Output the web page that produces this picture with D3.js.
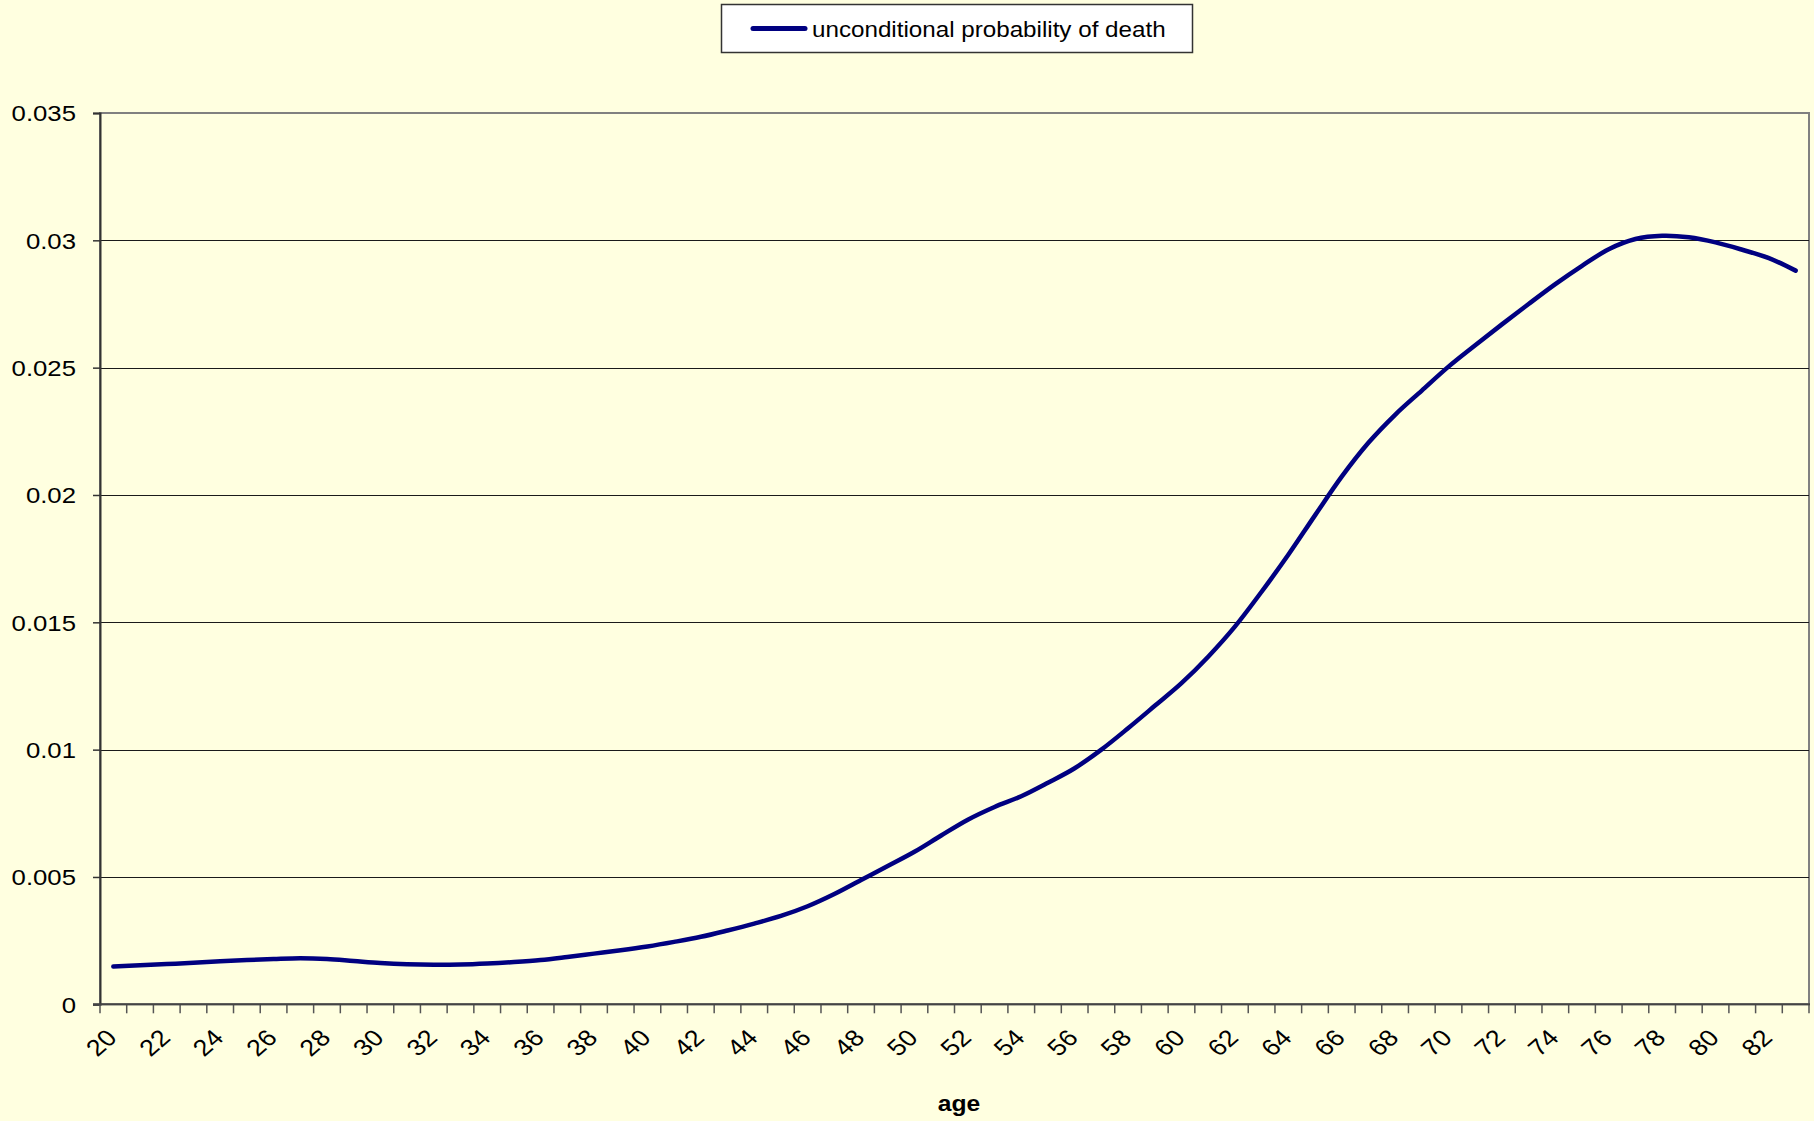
<!DOCTYPE html>
<html>
<head>
<meta charset="utf-8">
<script src="https://cdn.jsdelivr.net/npm/d3@7"></script>
<style>
  html, body { margin: 0; padding: 0; background: #FFFFE0; }
  svg { display: block; font-family: "Liberation Sans", Arial, sans-serif; }
</style>
</head>
<body>
<svg id="chart" width="1814" height="1121"></svg>
<script>
// Age categories on the horizontal axis
const ages = [20,21,22,23,24,25,26,27,28,29,30,31,32,33,34,35,36,37,38,39,
              40,41,42,43,44,45,46,47,48,49,50,51,52,53,54,55,56,57,58,59,
              60,61,62,63,64,65,66,67,68,69,70,71,72,73,74,75,76,77,78,79,
              80,81,82,83];

// Unconditional probability of death at each age
const deathProb = [0.00148,0.00153,0.00158,0.00163,0.00169,0.00174,0.00178,0.00181,0.00178,0.00170,
                   0.00162,0.00157,0.00155,0.00156,0.00160,0.00166,0.00174,0.00186,0.00199,0.00212,
                   0.00227,0.00245,0.00265,0.00290,0.00317,0.00347,0.00385,0.00433,0.00488,0.00543,
                   0.00599,0.00663,0.00725,0.00775,0.00817,0.00870,0.00927,0.01000,0.01084,0.01172,
                   0.01261,0.01365,0.01483,0.01620,0.01765,0.01920,0.02072,0.02205,0.02315,0.02410,
                   0.02504,0.02588,0.02670,0.02750,0.02828,0.02900,0.02965,0.03005,0.03018,0.03012,
                   0.02992,0.02963,0.02930,0.02881];

// Axis ticks and labels
const yTicks = [0, 0.005, 0.01, 0.015, 0.02, 0.025, 0.03, 0.035];
const yTickLabels = ["0", "0.005", "0.01", "0.015", "0.02", "0.025", "0.03", "0.035"];
const xTickLabels = [20,22,24,26,28,30,32,34,36,38,40,42,44,46,48,50,52,54,56,58,60,62,64,66,68,70,72,74,76,78,80,82];

const seriesName = "unconditional probability of death";
const xTitle = "age";

const svg = d3.select("#chart");
const W = 1814, H = 1121;
const plot = { left: 100, right: 1809, top: 113, bottom: 1004.3 };
const labelStretch = 1.17;

svg.append("rect").attr("width", W).attr("height", H).attr("fill", "#FFFFE0");

const x = d3.scaleBand().domain(ages).range([plot.left, plot.right]).padding(0);
const y = d3.scaleLinear().domain([0, 0.035]).range([plot.bottom, plot.top]);
const cx = a => x(a) + x.bandwidth() / 2;

// Plot area frame (grey top and right edges)
svg.append("rect")
  .attr("x", plot.left).attr("y", plot.top)
  .attr("width", plot.right - plot.left).attr("height", plot.bottom - plot.top)
  .attr("fill", "none").attr("stroke", "#808080").attr("stroke-width", 2);

// Horizontal gridlines
svg.append("g")
  .selectAll("line")
  .data(yTicks.filter(v => v > 0 && v < 0.035))
  .join("line")
  .attr("x1", plot.left).attr("x2", plot.right)
  .attr("y1", d => Math.round(y(d)) + 0.5).attr("y2", d => Math.round(y(d)) + 0.5)
  .attr("stroke", "#1a1a1a").attr("stroke-width", 1.2);

// Y axis
const yAxis = svg.append("g")
  .attr("transform", `translate(${plot.left},0)`)
  .call(d3.axisLeft(y).tickValues(yTicks).tickFormat((d, i) => yTickLabels[i]).tickSize(7).tickPadding(0));
yAxis.select(".domain").attr("stroke", "#333").attr("stroke-width", 2);
yAxis.selectAll(".tick line").attr("stroke", "#333").attr("stroke-width", 1.5);
yAxis.selectAll(".tick text")
  .attr("x", 0).attr("dy", "0.36em")
  .attr("transform", `translate(-24,0) scale(${labelStretch},1)`)
  .attr("text-anchor", "end")
  .attr("font-size", 22).attr("fill", "#000")
  .style("font-family", "'Liberation Sans', Arial, sans-serif");

// X axis: line, category-boundary ticks and rotated labels
const xAxis = svg.append("g")
  .attr("transform", `translate(0,${plot.bottom})`)
  .call(d3.axisBottom(x).tickValues(xTickLabels).tickSize(0).tickPadding(0));
xAxis.select(".domain").remove();
xAxis.selectAll(".tick text")
  .attr("x", 0).attr("y", 0).attr("dy", 0)
  .attr("transform", `translate(5,35) scale(${labelStretch},1) rotate(-45)`)
  .attr("text-anchor", "end")
  .attr("font-size", 23).attr("fill", "#000")
  .style("font-family", "'Liberation Sans', Arial, sans-serif");

const boundaries = ages.map(a => x(a)).concat([x(ages[ages.length - 1]) + x.bandwidth()]);
svg.append("g")
  .selectAll("line")
  .data(boundaries)
  .join("line")
  .attr("x1", d => d).attr("x2", d => d)
  .attr("y1", plot.bottom).attr("y2", plot.bottom + 9)
  .attr("stroke", "#555").attr("stroke-width", 1.5);

svg.append("line")
  .attr("x1", plot.left - 7).attr("x2", plot.right + 1)
  .attr("y1", plot.bottom).attr("y2", plot.bottom)
  .attr("stroke", "#444").attr("stroke-width", 2);

// Smoothed series line
const line = d3.line()
  .x((d, i) => cx(ages[i]))
  .y(d => y(d))
  .curve(d3.curveCatmullRom.alpha(0));

svg.append("path")
  .datum(deathProb)
  .attr("d", line)
  .attr("fill", "none")
  .attr("stroke", "#000080")
  .attr("stroke-width", 4.5)
  .attr("stroke-linecap", "round")
  .attr("stroke-linejoin", "round");

// Axis title
svg.append("text")
  .attr("transform", `translate(959,1111) scale(1.12,1)`)
  .attr("text-anchor", "middle")
  .attr("font-size", 22).attr("font-weight", "bold").attr("fill", "#000")
  .text(xTitle);

// Legend
const legend = svg.append("g");
legend.append("rect")
  .attr("x", 721.5).attr("y", 4.5).attr("width", 471).attr("height", 48)
  .attr("fill", "#FFFFFF").attr("stroke", "#333").attr("stroke-width", 1.5);
legend.append("line")
  .attr("x1", 753).attr("x2", 805).attr("y1", 28.5).attr("y2", 28.5)
  .attr("stroke", "#000080").attr("stroke-width", 5).attr("stroke-linecap", "round");
legend.append("text")
  .attr("transform", "translate(812,37) scale(1.1,1)")
  .attr("font-size", 22).attr("fill", "#000")
  .text(seriesName);
</script>
</body>
</html>
